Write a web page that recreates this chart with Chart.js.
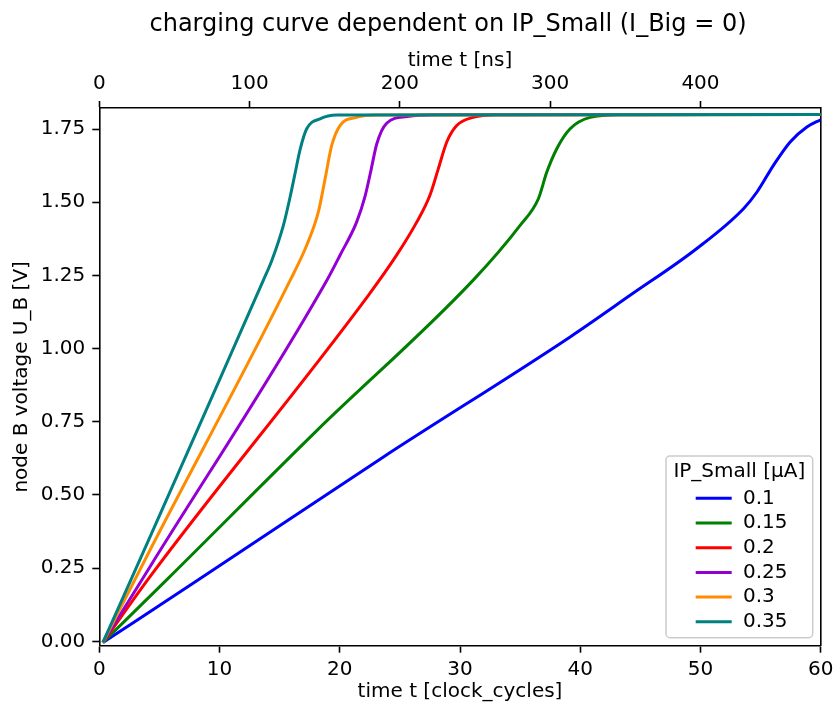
<!DOCTYPE html>
<html>
<head>
<meta charset="utf-8">
<script src="https://cdn.jsdelivr.net/npm/chart.js@4"></script>
<style>
  html, body { margin: 0; padding: 0; background: #fff; }
  #wrap { width: 835px; height: 711px; }
</style>
</head>
<body>
<div id="wrap"><canvas id="chart" width="835" height="711"></canvas></div>
<script>
// Charging curves of node B for several IP_Small currents (I_Big = 0).
// Time in clock cycles, node voltage U_B in volts.
const figureTitle = 'charging curve dependent on IP_Small (I_Big = 0)';
const legendTitle = 'IP_Small [µA]';
const seriesLabels = ['0.1', '0.15', '0.2', '0.25', '0.3', '0.35'];
const seriesColors = ['#0000ff', '#008000', '#ff0000', '#9400d3', '#ff8c00', '#008080'];

// IP_Small = 0.1 µA
const t010 = [0.3, 8.24, 23.63, 39.16, 44.15, 49.7, 53.58, 54.7, 56.07, 57.46, 58.85, 60];
const u010 = [-0.004, 0.21, 0.63, 1.04, 1.182, 1.342, 1.478, 1.535, 1.626, 1.706, 1.757, 1.782];
// IP_Small = 0.15 µA
const t015 = [0.3, 5.6, 18.09, 31.1, 35.0, 36.52, 37.22, 38.05, 39.16, 40.82, 43.3, 60];
const u015 = [-0.004, 0.21, 0.72, 1.234, 1.421, 1.512, 1.603, 1.683, 1.751, 1.79, 1.799, 1.8];
// IP_Small = 0.2 µA
const t020 = [0.3, 4.22, 22.38, 24.74, 26.4, 27.5, 28.2, 28.9, 29.73, 31.1, 33, 60];
const u020 = [-0.004, 0.221, 1.182, 1.32, 1.432, 1.524, 1.615, 1.706, 1.762, 1.79, 1.799, 1.8];
// IP_Small = 0.25 µA
const t025 = [0.3, 4.22, 18.92, 20.02, 21.4, 22.1, 22.6, 23.08, 23.9, 25.6, 28, 60];
const u025 = [-0.004, 0.255, 1.233, 1.319, 1.432, 1.52, 1.61, 1.70, 1.77, 1.793, 1.799, 1.8];
// IP_Small = 0.3 µA
const t030 = [0.3, 4.22, 15.87, 17.25, 18.22, 18.78, 19.33, 20.02, 21.4, 23, 60];
const u030 = [-0.004, 0.312, 1.233, 1.353, 1.467, 1.58, 1.694, 1.762, 1.79, 1.798, 1.8];
// IP_Small = 0.35 µA
const t035 = [0.3, 4.22, 8.52, 13.64, 14.34, 15.31, 15.87, 16.28, 16.7, 17.25, 18.36, 19.75, 60];
const u035 = [-0.004, 0.357, 0.756, 1.233, 1.30, 1.421, 1.518, 1.598, 1.68, 1.751, 1.785, 1.798, 1.8];

// Axis ticks
const cycleTicks = [0, 10, 20, 30, 40, 50, 60];
const nsTicks = [0, 100, 200, 300, 400];
const voltTicks = [0, 0.25, 0.5, 0.75, 1.0, 1.25, 1.5, 1.75];
const nsPerCycle = 8;
const cycleRange = [0, 60];
const voltRange = [-0.015, 1.822];

const curves = [[t010, u010], [t015, u015], [t020, u020], [t025, u025], [t030, u030], [t035, u035]];

Chart.defaults.font.family = "'DejaVu Sans', sans-serif";
Chart.defaults.font.size = 20;
Chart.defaults.color = '#000';

const FONT = { family: "'DejaVu Sans', sans-serif", size: 20 };
const SPINE = { display: true, color: '#000', width: 1.6 };
const TICKMARKS = { display: true, drawOnChartArea: false, drawTicks: true, tickLength: 7, tickColor: '#000', tickWidth: 1.6 };

// Figure title, centred above the axes
const titlePlugin = {
  id: 'figTitle',
  afterDraw(chart) {
    const ctx = chart.ctx;
    ctx.save();
    ctx.font = "24px 'DejaVu Sans', sans-serif";
    ctx.fillStyle = '#000';
    ctx.textAlign = 'center';
    ctx.textBaseline = 'alphabetic';
    ctx.fillText(figureTitle, 448, 30.7);
    ctx.restore();
  }
};

// Framed legend in the lower right corner of the plot area
const legendPlugin = {
  id: 'boxLegend',
  afterDatasetsDraw(chart) {
    const { ctx, chartArea } = chart;
    const w = 146.7, h = 181.7;
    const x0 = chartArea.right - 8 - w;
    const y0 = chartArea.bottom - 8 - h;
    ctx.save();
    ctx.beginPath();
    ctx.roundRect(x0, y0, w, h, 4);
    ctx.fillStyle = 'rgba(255,255,255,0.8)';
    ctx.fill();
    ctx.strokeStyle = '#cccccc';
    ctx.lineWidth = 1.5;
    ctx.stroke();
    ctx.font = "20px 'DejaVu Sans', sans-serif";
    ctx.fillStyle = '#000';
    ctx.textBaseline = 'middle';
    ctx.textAlign = 'center';
    ctx.fillText(legendTitle, x0 + w / 2, y0 + 16);
    ctx.textAlign = 'left';
    chart.data.datasets.forEach((ds, i) => {
      const y = y0 + 42.3 + i * 24.7;
      ctx.beginPath();
      ctx.moveTo(x0 + 29.7, y);
      ctx.lineTo(x0 + 65.7, y);
      ctx.strokeStyle = ds.borderColor;
      ctx.lineWidth = 3;
      ctx.lineCap = 'butt';
      ctx.stroke();
      ctx.fillStyle = '#000';
      ctx.fillText(ds.label, x0 + 77, y);
    });
    ctx.restore();
  }
};

const datasets = curves.map(([t, u], i) => ({
  label: seriesLabels[i],
  data: t.map((x, k) => ({ x: x, y: u[k] })),
  borderColor: seriesColors[i],
  backgroundColor: seriesColors[i],
  borderWidth: 3,
  pointRadius: 0,
  fill: false,
  cubicInterpolationMode: 'monotone',
  order: curves.length - i,
  xAxisID: 'x',
  yAxisID: 'y'
}));

new Chart(document.getElementById('chart'), {
  type: 'line',
  data: { datasets },
  plugins: [titlePlugin, legendPlugin],
  options: {
    responsive: false,
    animation: false,
    devicePixelRatio: 1,
    events: [],
    layout: { padding: { top: 40, right: 14.3, left: 0, bottom: 0 } },
    plugins: { legend: { display: false }, tooltip: { enabled: false }, title: { display: false } },
    scales: {
      x: {
        type: 'linear', axis: 'x', position: 'bottom',
        min: cycleRange[0], max: cycleRange[1],
        afterBuildTicks: s => { s.ticks = cycleTicks.map(v => ({ value: v })); },
        afterFit: s => { s.height = 65.3; s.paddingLeft = 0; s.paddingRight = 0; },
        ticks: { padding: 5, autoSkip: false, maxRotation: 0, font: FONT, color: '#000', callback: v => String(v) },
        grid: TICKMARKS,
        border: SPINE,
        title: { display: true, text: 'time t [clock_cycles]', font: FONT, color: '#000', padding: { top: 0, bottom: 7 } }
      },
      xTop: {
        type: 'linear', axis: 'x', position: 'top',
        min: cycleRange[0] * nsPerCycle, max: cycleRange[1] * nsPerCycle,
        afterBuildTicks: s => { s.ticks = nsTicks.map(v => ({ value: v })); },
        afterFit: s => { s.height = 68; s.paddingLeft = 0; s.paddingRight = 0; },
        ticks: { padding: 5, autoSkip: false, maxRotation: 0, font: FONT, color: '#000', callback: v => String(v) },
        grid: TICKMARKS,
        border: SPINE,
        title: { display: true, text: 'time t [ns]', font: FONT, color: '#000', padding: { top: 8.5, bottom: 0 } }
      },
      y: {
        type: 'linear', axis: 'y', position: 'left',
        min: voltRange[0], max: voltRange[1],
        afterBuildTicks: s => { s.ticks = voltTicks.map(v => ({ value: v })); },
        afterFit: s => { s.width = 99.3; s.paddingTop = 0; s.paddingBottom = 0; },
        ticks: { padding: 7, autoSkip: false, font: FONT, color: '#000', callback: v => Number(v).toFixed(2) },
        grid: TICKMARKS,
        border: SPINE,
        title: { display: true, text: 'node B voltage U_B [V]', font: FONT, color: '#000', padding: { top: 10, bottom: 0 } }
      },
      yRight: {
        type: 'linear', axis: 'y', position: 'right',
        min: voltRange[0], max: voltRange[1],
        afterFit: s => { s.width = 0; s.paddingTop = 0; s.paddingBottom = 0; },
        ticks: { display: false },
        grid: { display: false, drawOnChartArea: false, drawTicks: false },
        border: SPINE
      }
    }
  }
});
</script>
</body>
</html>
